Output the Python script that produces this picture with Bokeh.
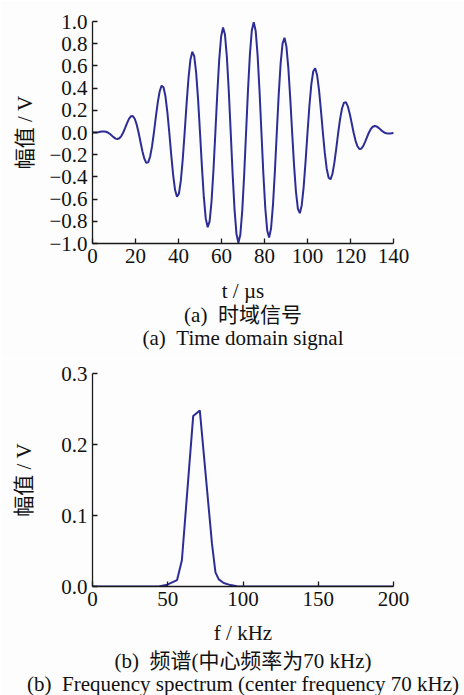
from bokeh.plotting import figure
from bokeh.models import FixedTicker, Title
from bokeh.layouts import column
from bokeh.embed import file_html
from bokeh.resources import INLINE

# ---- (a) time-domain signal: sampled amplitude, V ----
sample_step_us = 0.8929
amplitude_v = [
    0, 0.000, 0.001, 0.003, 0.006, 0.009, 0.010, 0.007,
    0, -0.012, -0.027, -0.042, -0.055, -0.059, -0.052, -0.032,
    0, 0.041, 0.085, 0.123, 0.146, 0.148, 0.124, 0.073,
    0, -0.085, -0.169, -0.236, -0.273, -0.269, -0.218, -0.125,
    0, 0.140, 0.271, 0.372, 0.422, 0.408, 0.326, 0.184,
    0, -0.199, -0.381, -0.516, -0.578, -0.552, -0.436, -0.243,
    0, 0.258, 0.489, 0.655, 0.727, 0.688, 0.538, 0.298,
    0, -0.310, -0.583, -0.776, -0.854, -0.801, -0.622, -0.342,
    0, 0.351, 0.655, 0.865, 0.946, 0.882, 0.680, 0.371,
    0, -0.376, -0.697, -0.915, -0.994, -0.921, -0.706, -0.383,
    0, 0.383, 0.706, 0.921, 0.994, 0.915, 0.697, 0.376,
    0, -0.371, -0.680, -0.882, -0.946, -0.865, -0.655, -0.351,
    0, 0.342, 0.622, 0.801, 0.854, 0.776, 0.583, 0.310,
    0, -0.298, -0.538, -0.688, -0.727, -0.655, -0.489, -0.258,
    0, 0.243, 0.436, 0.552, 0.578, 0.516, 0.381, 0.199,
    0, -0.184, -0.326, -0.408, -0.422, -0.372, -0.271, -0.140,
    0, 0.125, 0.218, 0.269, 0.273, 0.236, 0.169, 0.085,
    0, -0.073, -0.124, -0.148, -0.146, -0.123, -0.085, -0.041,
    0, 0.032, 0.052, 0.059, 0.055, 0.042, 0.027, 0.012,
    0, -0.007, -0.010, -0.009, -0.006, -0.003,
]
time_us = [i * sample_step_us for i in range(len(amplitude_v))]

# ---- (b) spectrum ----
freq_khz = [0, 44, 49.7, 56.2, 59.4, 66.9, 71.3, 79.4, 81.7, 83.9, 87.2, 91.7, 96, 100, 200]
spectrum_v = [0, 0, 0.0026, 0.009, 0.037, 0.240, 0.248, 0.060, 0.020, 0.010, 0.005, 0.002, 0.0005, 0, 0]

# ---- ticks ----
t_ticks = [0, 20, 40, 60, 80, 100, 120, 140]
amp_ticks = [-1.0, -0.8, -0.6, -0.4, -0.2, 0.0, 0.2, 0.4, 0.6, 0.8, 1.0]
amp_tick_labels = ["\u22121.0", "\u22120.8", "\u22120.6", "\u22120.4", "\u22120.2",
                   "0.0", "0.2", "0.4", "0.6", "0.8", "1.0"]
f_ticks = [0, 50, 100, 150, 200]
spec_ticks = [0.0, 0.1, 0.2, 0.3]
spec_tick_labels = ["0.0", "0.1", "0.2", "0.3"]

FONT = "'Liberation Serif', 'Noto Sans CJK SC'"
LINE = "#2d2d96"
BG = "#fdfdfd"
AX = "#1a1a1a"
TXT = "#111111"
FS = "21px"


def style(p, xticks, yticks, ylabels, xlabel, ylabel, ylabel_standoff, xlabel_standoff):
    p.grid.visible = False
    p.outline_line_color = None
    p.background_fill_color = BG
    p.border_fill_color = BG
    for ax in (p.xaxis[0], p.yaxis[0]):
        ax.axis_line_color = AX
        ax.axis_line_width = 1.3
        ax.major_tick_line_color = AX
        ax.major_tick_line_width = 1.3
        ax.major_tick_in = 5
        ax.major_tick_out = 0
        ax.minor_tick_line_color = None
        ax.major_label_text_font = FONT
        ax.major_label_text_font_size = FS
        ax.major_label_text_color = TXT
        ax.major_label_standoff = 5
        ax.axis_label_text_font = FONT
        ax.axis_label_text_font_size = FS
        ax.axis_label_text_font_style = "normal"
        ax.axis_label_text_color = TXT
    p.xaxis[0].ticker = FixedTicker(ticks=xticks)
    p.yaxis[0].ticker = FixedTicker(ticks=yticks)
    p.yaxis[0].major_label_overrides = {v: s for v, s in zip(yticks, ylabels)}
    p.xaxis[0].axis_label = xlabel
    p.yaxis[0].axis_label = ylabel
    p.yaxis[0].axis_label_standoff = ylabel_standoff
    p.xaxis[0].axis_label_standoff = xlabel_standoff


def caption(p, text, standoff):
    t = Title(text=text, align="center", text_font=FONT, text_font_size=FS,
              text_font_style="normal", text_color=TXT, standoff=standoff)
    p.add_layout(t, "below")


p1 = figure(width=464, height=358, x_range=(0, 140), y_range=(-1, 1),
            output_backend="svg", toolbar_location=None,
            min_border_left=92, min_border_right=71, min_border_top=21, min_border_bottom=115)
p1.line(time_us, amplitude_v, line_color=LINE, line_width=2)
style(p1, t_ticks, amp_ticks, amp_tick_labels, "t / \u00b5s", "幅值 / V", 9, 13)
caption(p1, "(a) \u00a0时域信号", -9)
caption(p1, "(a) \u00a0Time domain signal", 3)

p2 = figure(width=464, height=337, x_range=(0, 200), y_range=(0, 0.3),
            output_backend="svg", toolbar_location=None,
            min_border_left=92, min_border_right=71, min_border_top=15, min_border_bottom=109)
p2.line(freq_khz, spectrum_v, line_color=LINE, line_width=2)
style(p2, f_ticks, spec_ticks, spec_tick_labels, "f / kHz", "幅值 / V", 22, 12)
caption(p2, "(b) \u00a0频谱(中心频率为70 kHz)", -1)
caption(p2, "(b) \u00a0Frequency spectrum (center frequency 70 kHz)", -5)

layout = column(p1, p2, spacing=0)
open("out.html", "w").write(file_html(layout, INLINE))
